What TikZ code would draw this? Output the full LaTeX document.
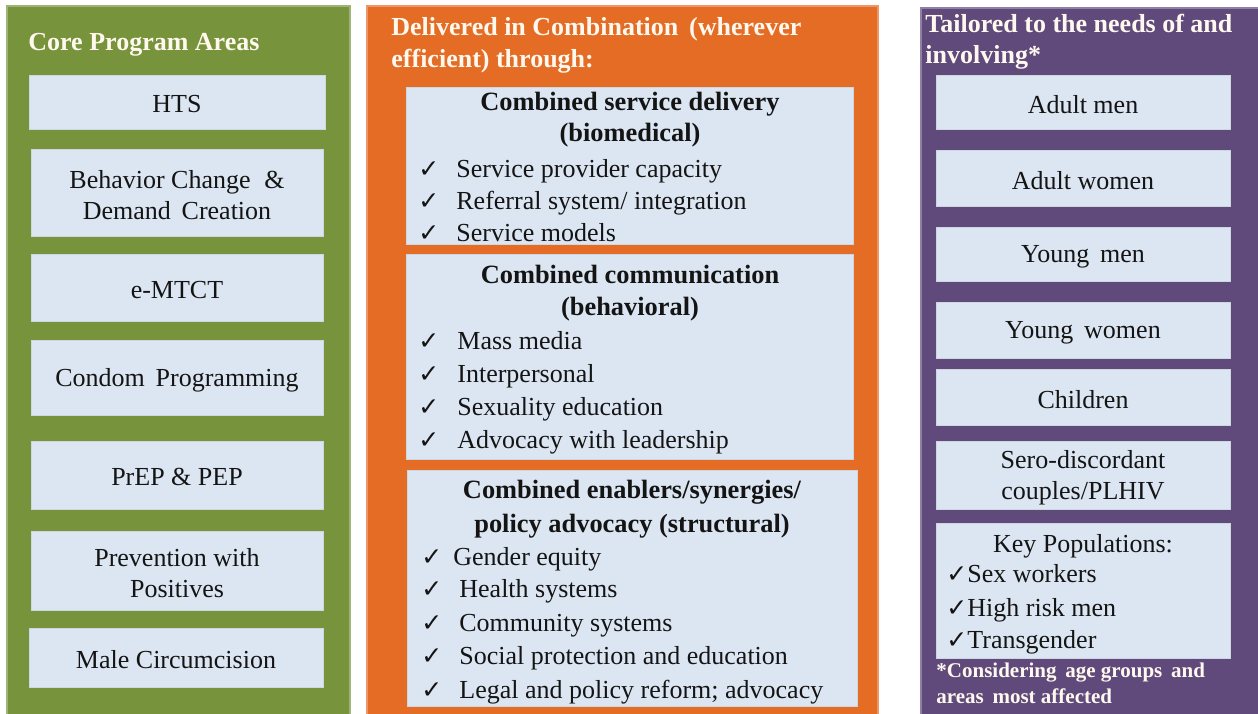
\documentclass[tikz,border=0pt]{standalone}
\usepackage{fontspec}
\setmainfont{Liberation Serif}
\newfontfamily\symf{DejaVu Sans}
\usetikzlibrary{fit}
\definecolor{pgreen}{HTML}{77933C}
\definecolor{porange}{HTML}{E46C24}
\definecolor{ppurple}{HTML}{604A7B}
\definecolor{lblue}{HTML}{DCE6F2}
\definecolor{ink}{HTML}{141414}
\definecolor{ttl}{HTML}{FFF8EE}
\begin{document}
\begin{tikzpicture}[x=0.5pt,y=-0.5pt,
  panel/.style={inner sep=0pt,outer sep=0pt,line width=0.6pt},
  lbox/.style={fill=lblue,draw=lblue!85!gray,line width=0.5pt,inner sep=0pt,outer sep=0pt},
  btext/.style={inner sep=0pt,align=center,text=ink,yshift=-1.2pt,font=\fontsize{13}{15.5}\selectfont},
  ttext/.style={anchor=base west,inner sep=0pt,text=ttl,font=\fontsize{13}{16}\selectfont\bfseries},
  itext/.style={anchor=base west,inner sep=0pt,text=ink,font=\fontsize{13}{16}\selectfont},
  htext/.style={anchor=base,inner sep=0pt,text=ink,font=\fontsize{13.2}{16}\selectfont\bfseries},
  chk/.style={anchor=base west,inner sep=0pt,text=ink,font=\symf\fontsize{12.5}{14}\selectfont}]
\useasboundingbox (0,0) rectangle (1258,713);
\fill[white] (0,0) rectangle (1258,713);
% panels
\node[panel,fill=pgreen,draw=pgreen!70!white,fit={(7,6)(350,716)}] (pg) {};
\node[panel,fill=porange,draw=porange!70!white,fit={(367,6)(878,716)}] (po) {};
\node[panel,fill=ppurple,draw=ppurple!70!white,fit={(921,8)(1260,716)}] (pp) {};
% panel titles
\node[ttext] (tg) at (28,50) {Core Program Areas};
\node[ttext] (to1) at (391,35) {Delivered in Combination \,(wherever};
\node[ttext] (to2) at (391,67) {efficient) through:};
\node[ttext] (tp1) at (925,32) {Tailored to the needs of and};
\node[ttext] (tp2) at (925,63) {involving*};
% green boxes
\node[lbox,fit={(29,75)(325,129)}] (g1) {};
\node[btext] (g1t) at (g1.center) {HTS};
\node[lbox,fit={(31,149)(323,236)}] (g2) {};
\node[btext] (g2t) at (g2.center) {Behavior Change \;\&\\Demand \,Creation};
\node[lbox,fit={(31,254)(323,321)}] (g3) {};
\node[btext] (g3t) at (g3.center) {e-MTCT};
\node[lbox,fit={(31,340)(323,415)}] (g4) {};
\node[btext] (g4t) at (g4.center) {Condom \,Programming};
\node[lbox,fit={(31,441)(323,509)}] (g5) {};
\node[btext] (g5t) at (g5.center) {PrEP \& PEP};
\node[lbox,fit={(31,531)(323,610)}] (g6) {};
\node[btext] (g6t) at (g6.center) {Prevention with\\Positives};
\node[lbox,fit={(29,628)(323,687)}] (g7) {};
\node[btext] (g7t) at (g7.center) {Male Circumcision};
% purple boxes
\node[lbox,fit={(936,75)(1230,129)}] (p1) {};
\node[btext] (p1t) at (p1.center) {Adult men};
\node[lbox,fit={(936,150)(1230,206)}] (p2) {};
\node[btext] (p2t) at (p2.center) {Adult women};
\node[lbox,fit={(936,227)(1230,281)}] (p3) {};
\node[btext] (p3t) at (p3.center) {Young \,men};
\node[lbox,fit={(936,302)(1230,358)}] (p4) {};
\node[btext] (p4t) at (p4.center) {Young \,women};
\node[lbox,fit={(936,369)(1230,425)}] (p5) {};
\node[btext] (p5t) at (p5.center) {Children};
\node[lbox,fit={(936,441)(1230,509)}] (p6) {};
\node[btext] (p6t) at (p6.center) {Sero-discordant\\couples/PLHIV};
\node[lbox,fit={(936,523)(1230,658)}] (p7) {};
\node[htext,font=\fontsize{13}{16}\selectfont] (k0) at (1083,552) {Key Populations:};
\node[chk] (kc1) at (946,582) {✓};
\node[itext] (k1) at (967,582) {Sex workers};
\node[chk] (kc2) at (946,616) {✓};
\node[itext] (k2) at (967,616) {High risk men};
\node[chk] (kc3) at (946,648) {✓};
\node[itext] (k3) at (967,648) {Transgender};
\node[ttext,font=\fontsize{10.5}{14}\selectfont\bfseries] (f1) at (936,677) {*Considering \,age groups \,and};
\node[ttext,font=\fontsize{10.5}{14}\selectfont\bfseries] (f2) at (936,703) {areas \,most affected};
% orange boxes
\node[lbox,fit={(406,87)(853,244)}] (o1) {};
\node[lbox,fit={(406,254)(853,459)}] (o2) {};
\node[lbox,fit={(407,470)(857,706)}] (o3) {};
% box 1
\node[htext] (h11) at (630,110) {Combined service delivery};
\node[htext] (h12) at (630,141) {(biomedical)};
\node[chk] (c11) at (418,177) {✓};
\node[itext] (i11) at (456,177) {Service provider capacity};
\node[chk] (c12) at (418,209) {✓};
\node[itext] (i12) at (456,209) {Referral system/ integration};
\node[chk] (c13) at (418,241) {✓};
\node[itext] (i13) at (456,241) {Service models};
% box 2
\node[htext] (h21) at (630,283) {Combined communication};
\node[htext] (h22) at (630,315) {(behavioral)};
\node[chk] (c21) at (418,349) {✓};
\node[itext] (i21) at (457,349) {Mass media};
\node[chk] (c22) at (418,382) {✓};
\node[itext] (i22) at (457,382) {Interpersonal};
\node[chk] (c23) at (418,415) {✓};
\node[itext] (i23) at (457,415) {Sexuality education};
\node[chk] (c24) at (418,448) {✓};
\node[itext] (i24) at (457,448) {Advocacy with leadership};
% box 3
\node[htext] (h31) at (632,498) {Combined enablers/synergies/};
\node[htext] (h32) at (632,532) {policy advocacy (structural)};
\node[chk] (c31) at (421,565) {✓};
\node[itext] (i31) at (453,565) {Gender equity};
\node[chk] (c32) at (421,597) {✓};
\node[itext] (i32) at (459,597) {Health systems};
\node[chk] (c33) at (421,631) {✓};
\node[itext] (i33) at (459,631) {Community systems};
\node[chk] (c34) at (421,664) {✓};
\node[itext] (i34) at (459,664) {Social protection and education};
\node[chk] (c35) at (421,698) {✓};
\node[itext] (i35) at (459,698) {Legal and policy reform; advocacy};
\end{tikzpicture}
\end{document}
